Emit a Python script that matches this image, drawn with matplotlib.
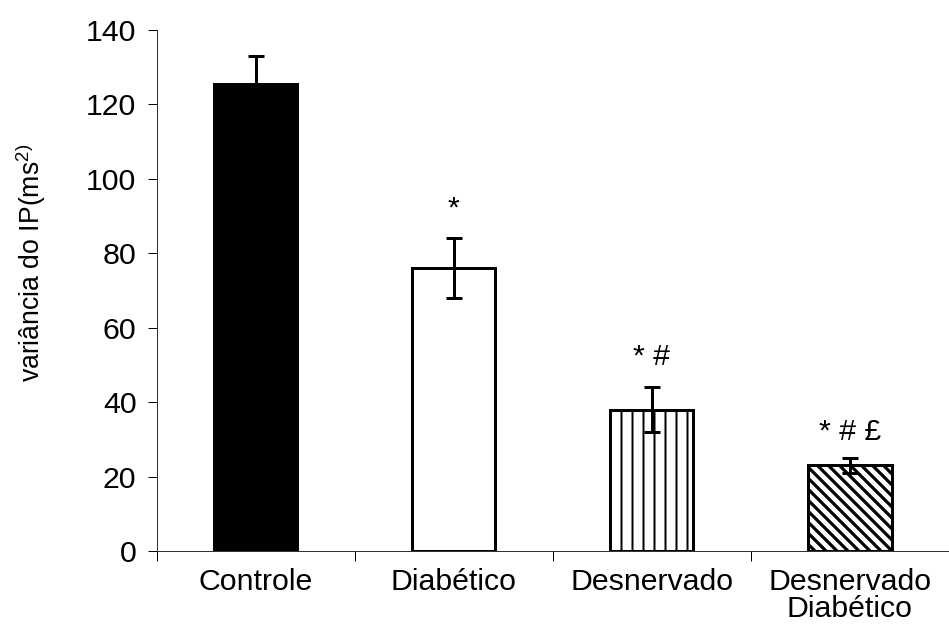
import matplotlib
matplotlib.use("Agg")
import matplotlib.pyplot as plt
import numpy as np

categories = ["Controle", "Diabético", "Desnervado", "Desnervado\nDiabético"]
means = [125.5, 76, 38, 23]
errors = [7.5, 8, 6, 2]
marks = ["", "*", "* #", "* # £"]
mark_heights = [None, 92, 52, 32]

DPI = 132
plt.rcParams["font.family"] = ["Liberation Sans", "DejaVu Sans"]
plt.rcParams["mathtext.fontset"] = "custom"
plt.rcParams["mathtext.rm"] = "Liberation Sans"
plt.rcParams["mathtext.default"] = "regular"

px = 72.0 / DPI  # one pixel in points
fs = 16.5

fig = plt.figure(figsize=(949 / DPI, 626 / DPI), dpi=DPI)
ax = fig.add_axes([156.5 / 949, 1 - 551 / 626, 1 - 156.5 / 949, (551 - 30) / 626])

x = np.arange(len(categories))
width = 0.42
styles = [
    dict(color="black", hatch=None, hlw=1.0),
    dict(color="white", hatch=None, hlw=1.0),
    dict(color="white", hatch="||", hlw=2.0 * px),
    dict(color="white", hatch="\\\\\\\\", hlw=3.2 * px),
]
for i, st in enumerate(styles):
    with plt.rc_context({"hatch.linewidth": st["hlw"], "hatch.color": "black"}):
        ax.bar(x[i], means[i], width=width, color=st["color"], edgecolor="black",
               linewidth=3 * px, hatch=st["hatch"], zorder=2)

ax.errorbar(x, means, yerr=errors, fmt="none", ecolor="black",
            elinewidth=3 * px, capsize=8.5 * px, capthick=3 * px, zorder=3)

for i, (m, h) in enumerate(zip(marks, mark_heights)):
    if m:
        ax.text(x[i], h, m, ha="center", va="center", fontsize=fs)

ax.set_xlim(-0.5, len(categories) - 0.5)
ax.set_ylim(0, 140)
ax.set_yticks(np.arange(0, 141, 20))
ax.tick_params(axis="y", direction="out", length=9 * px, width=1 * px,
               labelsize=fs, pad=6)

# category separators as major ticks, names as minor tick labels
ax.set_xticks(np.arange(-0.5, len(categories) - 0.4, 1.0))
ax.set_xticklabels([])
ax.set_xticks(x, minor=True)
ax.set_xticklabels(categories, minor=True, fontsize=fs, linespacing=0.98)
ax.tick_params(axis="x", which="major", direction="out", length=10 * px, width=1 * px)
ax.tick_params(axis="x", which="minor", length=0, pad=9)

for side in ["top", "right"]:
    ax.spines[side].set_visible(False)
for side in ["left", "bottom"]:
    ax.spines[side].set_linewidth(1 * px)
    ax.spines[side].set_color("#333333")

fig.text(31 / 949, 1 - 263 / 626, r"variância do IP(ms$^{2)}$", rotation=90,
         ha="center", va="center", fontsize=14.5)

fig.savefig("out.png", dpi=DPI)
